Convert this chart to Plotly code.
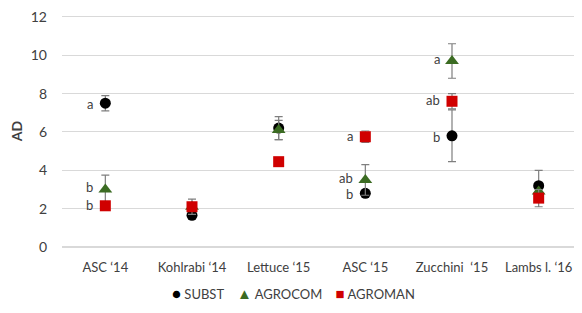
import plotly.graph_objects as go

categories = ["ASC \u201814", "Kohlrabi \u201814", "Lettuce \u201815", "ASC \u201815", "Zucchini  \u201815", "Lambs l. \u201816"]

subst = [7.5, 1.65, 6.2, 2.8, 5.8, 3.2]
subst_err = [0.4, 0.0, 0.6, 0.0, 1.35, 0.8]
agrocom = [3.0, 2.1, 6.1, 3.5, 9.7, 2.9]
agrocom_err = [0.75, 0.4, 0.5, 0.8, 0.9, 0.0]
agroman = [2.15, 2.1, 4.45, 5.75, 7.6, 2.55]
agroman_err = [0.0, 0.0, 0.0, 0.3, 0.4, 0.45]

letters_subst = ["a", "", "", "b", "b", ""]
letters_agrocom = ["b", "", "", "ab", "a", ""]
letters_agroman = ["b", "", "", "a", "ab", ""]

yticks = [0, 2, 4, 6, 8, 10, 12]

FONT = "Lato, 'Open Sans', sans-serif"
TXT = "#404040"
ERR = "#7f7f7f"

names = ["SUBST", "AGROCOM", "AGROMAN"]
colors = ["#000000", "#3b6b22", "#d00000"]
symbols = ["circle", "triangle-up", "square"]
glyphs = ["\u25cf", "\u25b2", "\u25a0"]

fig = go.Figure()

for name, vals, errs, sym, col, sz in zip(names, [subst, agrocom, agroman],
                                          [subst_err, agrocom_err, agroman_err],
                                          symbols, colors, [11, 12, 11]):
    fig.add_trace(go.Scatter(
        x=categories, y=vals, mode="markers", name=name, showlegend=False,
        marker=dict(symbol=sym, color=col, size=sz),
        error_y=dict(type="data", array=errs, visible=True, color=ERR, thickness=1.2, width=4),
    ))

for vals, labs, ys in [(subst, letters_subst, -1), (agrocom, letters_agrocom, 2), (agroman, letters_agroman, 1)]:
    for c, v, t in zip(categories, vals, labs):
        if t:
            fig.add_annotation(x=c, y=v, text=t, showarrow=False, xanchor="right",
                               xshift=-10, yshift=ys, font=dict(family=FONT, size=13, color=TXT))

# manual legend
legend_text = "&nbsp;&nbsp;&nbsp;&nbsp;".join(
    f"<span style='color:{c};font-size:15px'>{g}</span>&nbsp;{n}" for g, c, n in zip(glyphs, colors, names)
)
fig.add_annotation(xref="paper", yref="paper", x=0.445, y=-0.2, xanchor="center", yanchor="middle",
                   text=legend_text, showarrow=False, font=dict(family=FONT, size=13, color=TXT))

fig.update_layout(
    width=574, height=305,
    margin=dict(l=54, r=0, t=5, b=66),
    paper_bgcolor="white", plot_bgcolor="white",
    font=dict(family=FONT, size=13, color=TXT),
    showlegend=False,
)
fig.update_xaxes(type="category", range=[-0.5, 5.5], showgrid=False, showline=False,
                 ticks="", tickfont=dict(family=FONT, size=13, color=TXT), ticklabelstandoff=11)
fig.update_yaxes(range=[0, 12.1], tickvals=yticks, showgrid=True, gridcolor="#d9d9d9", gridwidth=1,
                 zeroline=True, zerolinecolor="#d9d9d9", showline=False, ticks="",
                 ticklabeloverflow="allow",
                 tickfont=dict(family=FONT, size=14, color=TXT), ticklabelstandoff=14,
                 title=dict(text="<b>AD</b>", font=dict(family=FONT, size=14, color=TXT), standoff=10))

fig.write_html("out.html")
